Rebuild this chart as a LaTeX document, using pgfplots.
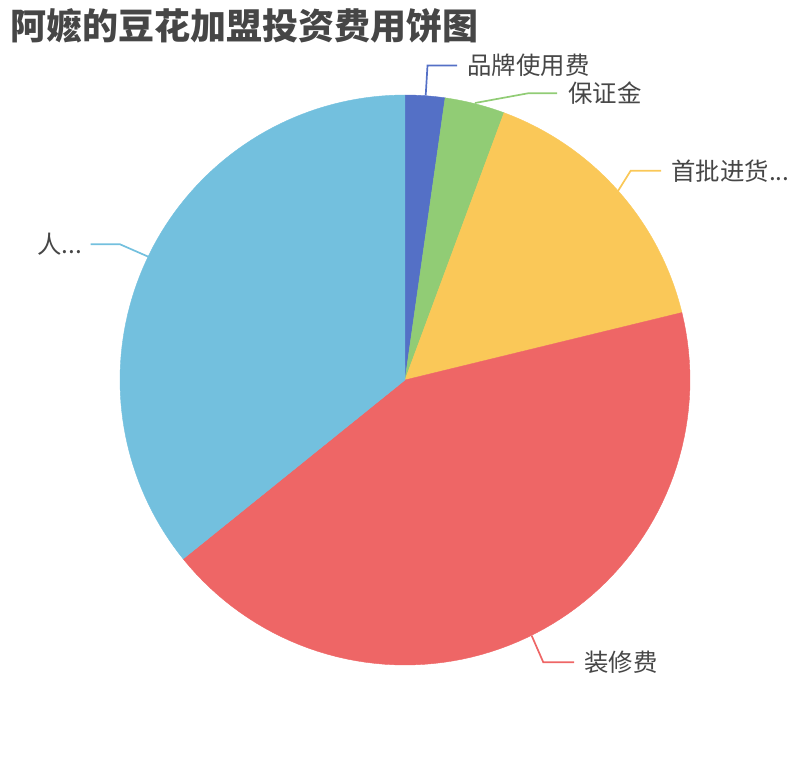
\documentclass[border=0pt]{standalone}
\usepackage{pgfplots}
\usepackage{pgfplotstable}
\pgfplotsset{compat=1.18}
\usepackage{fontspec}
\setmainfont{Noto Sans CJK SC}

\definecolor{c1}{HTML}{5470C6}
\definecolor{c2}{HTML}{91CC75}
\definecolor{c3}{HTML}{FAC858}
\definecolor{c4}{HTML}{EE6666}
\definecolor{c5}{HTML}{73C0DE}
\definecolor{txt}{HTML}{464646}

% share of each cost (percent)
\pgfplotstableread{
value
2.25
3.4
15.55
43.0
35.8
}\costs

\pgfplotstablegetelem{0}{value}\of\costs\let\vA\pgfplotsretval
\pgfplotstablegetelem{1}{value}\of\costs\let\vB\pgfplotsretval
\pgfplotstablegetelem{2}{value}\of\costs\let\vC\pgfplotsretval
\pgfplotstablegetelem{3}{value}\of\costs\let\vD\pgfplotsretval
\pgfplotstablegetelem{4}{value}\of\costs\let\vE\pgfplotsretval
\pgfmathsetmacro\tot{\vA+\vB+\vC+\vD+\vE}
\pgfmathsetmacro\aA{\vA/\tot*360}
\pgfmathsetmacro\aB{(\vA+\vB)/\tot*360}
\pgfmathsetmacro\aC{(\vA+\vB+\vC)/\tot*360}
\pgfmathsetmacro\aD{(\vA+\vB+\vC+\vD)/\tot*360}

\begin{document}
\begin{tikzpicture}
\begin{axis}[
    width=405pt, height=380pt, scale only axis,
    xmin=0, xmax=810, ymin=0, ymax=760,
    y dir=reverse,
    hide axis, clip=false,
    samples=80,
]
% slices, clockwise from 12 o'clock
\addplot[fill=c1, draw=c1, line width=0.2pt, domain=0:\aA]
    ({405+285*sin(x)},{380-285*cos(x)}) -- (axis cs:405,380) -- cycle;
\addplot[fill=c2, draw=c2, line width=0.2pt, domain=\aA:\aB]
    ({405+285*sin(x)},{380-285*cos(x)}) -- (axis cs:405,380) -- cycle;
\addplot[fill=c3, draw=c3, line width=0.2pt, domain=\aB:\aC]
    ({405+285*sin(x)},{380-285*cos(x)}) -- (axis cs:405,380) -- cycle;
\addplot[fill=c4, draw=c4, line width=0.2pt, domain=\aC:\aD]
    ({405+285*sin(x)},{380-285*cos(x)}) -- (axis cs:405,380) -- cycle;
\addplot[fill=c5, draw=c5, line width=0.2pt, domain=\aD:360]
    ({405+285*sin(x)},{380-285*cos(x)}) -- (axis cs:405,380) -- cycle;

% label lines
\addplot[c1, line width=0.85pt] coordinates {(425.7,95.5) (427.5,65.5) (457,65.5)}
    node[pos=1, anchor=west, xshift=1.5pt, text=txt, font=\fontsize{12.2}{14}\selectfont] {品牌使用费};
\addplot[c2, line width=0.85pt] coordinates {(475,103) (528,93.3) (557,93.3)}
    node[pos=1, anchor=west, xshift=2pt, text=txt, font=\fontsize{12.2}{14}\selectfont] {保证金};
\addplot[c3, line width=0.85pt] coordinates {(618,191) (630.7,170.7) (661,170.7)}
    node[pos=1, anchor=west, xshift=1.5pt, text=txt, font=\fontsize{12.2}{14}\selectfont] {首批进货...};
\addplot[c4, line width=0.85pt] coordinates {(531.7,635.7) (543.3,662.3) (574,662.3)}
    node[pos=1, anchor=west, xshift=1.5pt, text=txt, font=\fontsize{12.2}{14}\selectfont] {装修费};
\addplot[c5, line width=0.85pt] coordinates {(148.3,256.7) (120,244.3) (90.7,244.3)}
    node[pos=1, anchor=east, xshift=-0.5pt, text=txt, font=\fontsize{12.2}{14}\selectfont] {人...};

\node[anchor=west, text=txt, font=\fontsize{18}{20}\selectfont\bfseries, inner sep=0pt]
    at (axis cs:10,26) {阿嬷的豆花加盟投资费用饼图};
\end{axis}
\pgfresetboundingbox
\path (current axis.south west) rectangle (current axis.north east);
\end{tikzpicture}
\end{document}
